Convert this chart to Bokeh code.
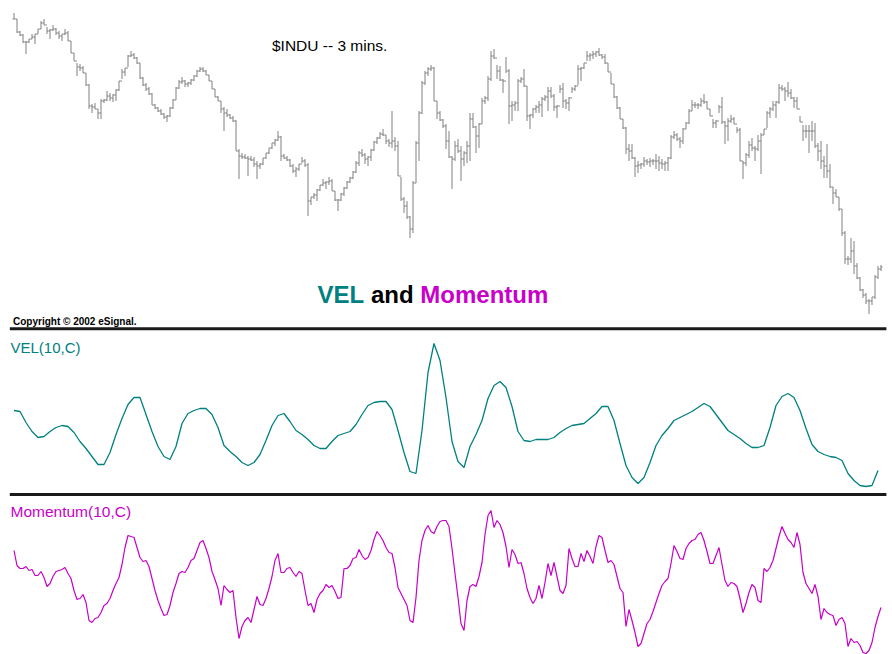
from bokeh.plotting import figure
from bokeh.models import Range1d, Label, ColumnDataSource
from bokeh.embed import file_html
from bokeh.resources import INLINE

# ---------------- data ----------------
# $INDU 3-minute bars (one bar per entry)
price_high = [
    8588, 8582, 8570, 8567, 8560, 8562, 8567, 8567, 8572, 8580,
    8582, 8574, 8572, 8576, 8573, 8570, 8567, 8572, 8570, 8560,
    8548, 8538, 8537, 8535, 8528, 8517, 8497, 8498, 8492, 8502,
    8502, 8510, 8508, 8507, 8512, 8520, 8532, 8533, 8546, 8550,
    8548, 8544, 8538, 8524, 8518, 8514, 8508, 8497, 8494, 8492,
    8488, 8486, 8494, 8502, 8514, 8521, 8524, 8521, 8519, 8522,
    8526, 8531, 8534, 8534, 8531, 8526, 8520, 8512, 8505, 8500,
    8494, 8492, 8487, 8485, 8481, 8452, 8448, 8447, 8445, 8445,
    8444, 8440, 8438, 8443, 8448, 8453, 8458, 8462, 8470, 8465,
    8447, 8445, 8442, 8437, 8434, 8437, 8444, 8442, 8438, 8404,
    8408, 8412, 8416, 8422, 8420, 8424, 8422, 8410, 8402, 8408,
    8414, 8420, 8424, 8430, 8440, 8450, 8452, 8448, 8445, 8452,
    8460, 8464, 8469, 8472, 8466, 8462, 8490, 8464, 8460, 8424,
    8404, 8400, 8385, 8420, 8460, 8490, 8520, 8530, 8534, 8536,
    8534, 8500, 8490, 8482, 8477, 8470, 8445, 8460, 8462, 8455,
    8450, 8460, 8488, 8488, 8475, 8478, 8503, 8505, 8525, 8550,
    8552, 8536, 8535, 8522, 8544, 8532, 8500, 8500, 8522, 8524,
    8532, 8515, 8487, 8493, 8496, 8500, 8504, 8506, 8514, 8514,
    8507, 8496, 8516, 8518, 8502, 8504, 8514, 8516, 8536, 8534,
    8538, 8550, 8548, 8550, 8550, 8553, 8547, 8547, 8538, 8528,
    8517, 8505, 8494, 8482, 8474, 8457, 8457, 8444, 8440, 8438,
    8444, 8442, 8443, 8442, 8447, 8445, 8442, 8440, 8444, 8466,
    8470, 8468, 8464, 8473, 8479, 8492, 8501, 8499, 8498, 8503,
    8507, 8500, 8492, 8482, 8481, 8496, 8504, 8480, 8483, 8486,
    8484, 8474, 8473, 8440, 8448, 8460, 8463, 8455, 8466, 8468,
    8472, 8490, 8494, 8500, 8500, 8517, 8516, 8514, 8519, 8512,
    8504, 8504, 8485, 8476, 8476, 8476, 8480, 8478, 8458, 8460,
    8445, 8457, 8437, 8414, 8412, 8404, 8392, 8370, 8345, 8363,
    8360, 8338, 8324, 8312, 8308, 8302, 8304, 8326, 8335, 8336,
]
price_low = [
    8582, 8568, 8565, 8558, 8547, 8558, 8562, 8557, 8567, 8572,
    8576, 8567, 8562, 8570, 8566, 8562, 8560, 8566, 8560, 8548,
    8540, 8525, 8530, 8528, 8515, 8492, 8488, 8492, 8482, 8482,
    8498, 8500, 8500, 8499, 8500, 8510, 8522, 8525, 8534, 8544,
    8542, 8537, 8522, 8515, 8510, 8506, 8496, 8492, 8489, 8486,
    8482, 8479, 8484, 8492, 8501, 8512, 8517, 8514, 8514, 8516,
    8520, 8524, 8529, 8529, 8526, 8520, 8512, 8504, 8500, 8488,
    8470, 8484, 8482, 8479, 8450, 8422, 8442, 8442, 8425, 8440,
    8434, 8422, 8432, 8436, 8442, 8447, 8452, 8455, 8460, 8440,
    8442, 8440, 8434, 8428, 8424, 8430, 8438, 8434, 8385, 8396,
    8402, 8400, 8410, 8415, 8412, 8416, 8410, 8400, 8390, 8400,
    8405, 8412, 8418, 8422, 8428, 8435, 8444, 8437, 8435, 8440,
    8450, 8457, 8462, 8465, 8457, 8454, 8453, 8450, 8425, 8400,
    8388, 8382, 8363, 8368, 8418, 8440, 8487, 8516, 8525, 8530,
    8500, 8482, 8480, 8473, 8452, 8443, 8412, 8440, 8448, 8420,
    8435, 8438, 8440, 8473, 8448, 8453, 8477, 8497, 8500, 8520,
    8542, 8522, 8520, 8508, 8528, 8477, 8480, 8490, 8490, 8518,
    8514, 8480, 8472, 8483, 8488, 8488, 8484, 8500, 8490, 8503,
    8490, 8483, 8508, 8493, 8492, 8490, 8508, 8510, 8516, 8520,
    8532, 8540, 8540, 8542, 8544, 8545, 8542, 8537, 8529, 8517,
    8503, 8492, 8482, 8472, 8447, 8440, 8442, 8424, 8428, 8432,
    8434, 8436, 8434, 8436, 8432, 8430, 8432, 8430, 8430, 8442,
    8462, 8460, 8453, 8457, 8472, 8477, 8490, 8493, 8492, 8494,
    8497, 8492, 8485, 8473, 8473, 8488, 8477, 8457, 8460, 8478,
    8477, 8468, 8440, 8422, 8435, 8443, 8450, 8440, 8450, 8427,
    8466, 8473, 8483, 8490, 8483, 8497, 8510, 8500, 8504, 8502,
    8493, 8492, 8479, 8460, 8463, 8448, 8460, 8453, 8440, 8432,
    8423, 8423, 8413, 8397, 8404, 8390, 8365, 8337, 8336, 8338,
    8327, 8322, 8310, 8303, 8297, 8287, 8296, 8302, 8322, 8330,
]
price_close = [
    8582, 8569, 8566, 8559, 8559, 8562, 8564, 8567, 8572, 8578,
    8576, 8570, 8571, 8572, 8568, 8565, 8567, 8568, 8560, 8548,
    8540, 8534, 8533, 8528, 8516, 8495, 8494, 8492, 8488, 8500,
    8501, 8505, 8503, 8506, 8511, 8520, 8529, 8533, 8545, 8546,
    8543, 8538, 8523, 8516, 8512, 8507, 8496, 8493, 8490, 8487,
    8484, 8485, 8493, 8501, 8513, 8519, 8520, 8517, 8518, 8521,
    8525, 8530, 8532, 8530, 8526, 8520, 8512, 8504, 8500, 8492,
    8488, 8486, 8483, 8480, 8450, 8445, 8444, 8443, 8442, 8441,
    8437, 8435, 8437, 8443, 8448, 8453, 8458, 8461, 8464, 8445,
    8443, 8441, 8435, 8430, 8432, 8437, 8440, 8436, 8400, 8404,
    8406, 8411, 8416, 8418, 8419, 8420, 8410, 8401, 8401, 8407,
    8413, 8419, 8423, 8429, 8438, 8448, 8446, 8442, 8444, 8451,
    8459, 8463, 8467, 8466, 8460, 8458, 8460, 8455, 8425, 8402,
    8395, 8384, 8372, 8418, 8458, 8488, 8518, 8528, 8532, 8533,
    8500, 8488, 8481, 8475, 8460, 8444, 8442, 8455, 8450, 8442,
    8448, 8455, 8482, 8474, 8465, 8477, 8500, 8503, 8522, 8545,
    8543, 8530, 8521, 8520, 8530, 8495, 8496, 8498, 8520, 8522,
    8515, 8485, 8486, 8492, 8494, 8496, 8502, 8504, 8510, 8505,
    8494, 8495, 8512, 8500, 8498, 8503, 8512, 8515, 8532, 8533,
    8538, 8545, 8546, 8547, 8549, 8546, 8544, 8538, 8529, 8517,
    8504, 8493, 8482, 8473, 8452, 8450, 8443, 8435, 8436, 8437,
    8440, 8439, 8440, 8440, 8440, 8438, 8437, 8438, 8443, 8464,
    8466, 8462, 8460, 8472, 8478, 8490, 8496, 8496, 8496, 8500,
    8499, 8492, 8485, 8478, 8480, 8494, 8479, 8475, 8480, 8482,
    8477, 8471, 8440, 8438, 8446, 8456, 8453, 8452, 8460, 8466,
    8472, 8488, 8492, 8496, 8499, 8513, 8512, 8510, 8508, 8503,
    8500, 8492, 8479, 8470, 8470, 8470, 8470, 8455, 8450, 8440,
    8435, 8430, 8414, 8408, 8404, 8392, 8368, 8342, 8342, 8350,
    8335, 8323, 8311, 8306, 8300, 8300, 8304, 8324, 8332, 8334,
]

# VEL(10,C), one value every second bar
vel = [
    10, 9, -2, -11, -17, -16, -11, -7, -5, -6,
    -12, -21, -28, -36, -44, -44, -32, -14, 2, 16,
    23, 23, 6, -11, -26, -36, -39, -26, -3, 7,
    10, 12, 12, 6, -7, -25, -31, -36, -42, -45,
    -42, -34, -20, -5, 5, 7, -1, -10, -14, -19,
    -25, -28, -28, -21, -15, -13, -11, -4, 6, 15,
    18, 19, 19, 11, -10, -32, -51, -53, -10, 48,
    77, 60, 23, -21, -41, -47, -26, -14, 0, 22,
    35, 39, 33, 14, -11, -20, -21, -19, -19, -19,
    -17, -12, -8, -5, -4, -3, 2, 7, 14, 14,
    0, -23, -45, -57, -63, -57, -42, -25, -15, -8,
    0, 3, 6, 9, 13, 17, 14, 6, -2, -10,
    -14, -18, -23, -27, -27, -25, -7, 15, 24, 27,
    23, 10, -8, -24, -31, -34, -36, -37, -40, -53,
    -60, -65, -66, -65, -50,
]

# Momentum(10,C), one value per bar
momentum = [
    25, 10, 7, 7, 9, 5, 6, 0, 0, 4,
    -2, -11, -8, -1, 4, 5, 6, 8, 2, -3,
    -15, -24, -23, -19, -27, -45, -47, -43, -42, -37,
    -30, -28, -23, -15, -8, -2, 11, 28, 40, 39,
    38, 28, 18, 14, 15, 9, -3, -15, -25, -33,
    -40, -39, -30, -17, -8, 2, 4, 3, 8, 15,
    17, 25, 33, 35, 27, 18, 4, -4, -13, -30,
    -10, -14, -17, -15, -42, -63, -51, -45, -42, -47,
    -34, -21, -29, -30, -23, -13, -1, 15, 22, 3,
    3, 7, 8, 3, -1, 4, 2, -15, -30, -28,
    -37, -24, -18, -15, -9, -12, -10, -16, -23, -22,
    7, 7, 10, 17, 18, 26, 20, 16, 18, 25,
    36, 44, 40, 35, 28, 23, 22, 8, -12, -18,
    -24, -30, -45, -47, -22, 15, 35, 45, 50, 44,
    42, 49, 54, 55, 55, 49, 27, 2, -22, -48,
    -55, -25, -11, -9, -11, -1, 13, 41, 60, 65,
    48, 55, 51, 43, 29, 8, 26, 21, 12, 13,
    2, -13, -22, -28, -23, -10, -23, -7, 12, 0,
    13, -1, -15, -18, -10, 27, 17, 9, 9, 22,
    14, 25, 19, 12, 29, 40, 38, 25, 13, 15,
    11, -1, -13, -17, -51, -34, -45, -57, -71, -68,
    -58, -48, -44, -36, -27, -18, -10, -6, -3, 12,
    30, 24, 17, 16, 27, 32, 35, 36, 41, 43,
    35, 24, 12, 12, 20, 28, 11, -5, -11, -7,
    -8, -11, -23, -37, -28, -17, -9, -12, -25, -27,
    7, 4, 8, 15, 27, 39, 49, 42, 36, 33,
    28, 43, 31, 3, -8, -13, -18, -9, -21, -44,
    -33, -37, -39, -40, -50, -44, -42, -48, -71, -63,
    -67, -66, -70, -77, -78, -75, -67, -52, -41, -32,
]

title_text = "$INDU -- 3 mins."
vel_label = "VEL(10,C)"
mom_label = "Momentum(10,C)"
copyright_text = "Copyright \u00a9 2002 eSignal."

# ---------------- styles ----------------
GRAY = "#808080"
TEAL = "#008080"
MAGENTA = "#c800c8"
FONT = "Liberation Sans"

n = len(price_close)
bars = list(range(n))
price_open = [price_close[0]] + price_close[:-1]
vel_bars = list(range(0, n, 2))[: len(vel)]

p = figure(width=892, height=654, output_backend="svg", toolbar_location=None,
           x_range=Range1d(-4.5, -4.5 + 892 / 3), y_range=Range1d(0, 654),
           x_axis_location=None, y_axis_location=None, min_border=0,
           outline_line_color=None, background_fill_color="white",
           border_fill_color="white")
p.grid.visible = False
p.extra_y_ranges = {
    "price": Range1d(7946.5, 8600.5),
    "vel": Range1d(-234, 420),
    "mom": Range1d(-79, 575),
}

src = ColumnDataSource(dict(
    bar=bars, high=price_high, low=price_low, open=price_open, close=price_close,
    left=[b - 0.5 for b in bars], right=[b + 0.5 for b in bars]))
p.segment(x0="bar", y0="low", x1="bar", y1="high", source=src,
          y_range_name="price", line_color=GRAY, line_width=1)
p.segment(x0="left", y0="open", x1="bar", y1="open", source=src,
          y_range_name="price", line_color=GRAY, line_width=1)
p.segment(x0="bar", y0="close", x1="right", y1="close", source=src,
          y_range_name="price", line_color=GRAY, line_width=1)

# panel separators
p.segment(x0=[-1.4, -1.4], x1=[290.8, 290.8], y0=[325.7, 160], y1=[325.7, 160],
          line_color="#1a1a1a", line_width=3)

p.line(vel_bars, vel, y_range_name="vel", line_color=TEAL, line_width=1.3)
p.line(bars, momentum, y_range_name="mom", line_color=MAGENTA, line_width=1.2)


def lab(x, y, text, size, color, style="normal"):
    p.add_layout(Label(x=x, y=y, x_units="screen", y_units="screen", text=text,
                       text_font=FONT, text_font_size=size, text_color=color,
                       text_font_style=style, text_baseline="alphabetic"))


lab(271.5, 609, title_text, "15.5px", "#000000")
lab(317, 359.7, "VEL", "24px", TEAL, "bold")
lab(370.4, 359.7, "and", "24px", "#000000", "bold")
lab(419.8, 359.7, "Momentum", "24px", MAGENTA, "bold")
lab(12.5, 333.5, copyright_text, "10px", "#000000", "bold")
lab(10, 307, vel_label, "15px", TEAL)
lab(10, 142.7, mom_label, "15.5px", MAGENTA)

open("out.html", "w").write(file_html(p, INLINE))
